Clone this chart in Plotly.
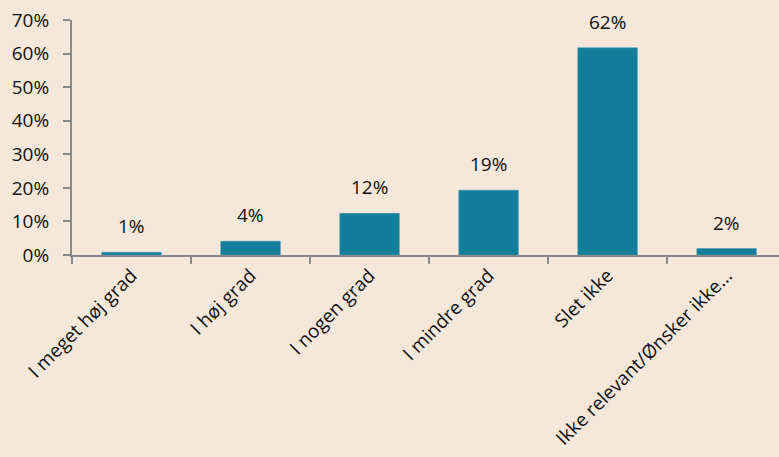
import plotly.graph_objects as go

categories = ["I meget høj grad", "I høj grad", "I nogen grad", "I mindre grad", "Slet ikke", "Ikke relevant/Ønsker ikke..."]
values = [0.8, 4.1, 12.4, 19.3, 61.7, 1.9]
labels = ["1%", "4%", "12%", "19%", "62%", "2%"]
y_ticks = [0, 10, 20, 30, 40, 50, 60, 70]
y_ticktext = [f"{v}%" for v in y_ticks]

font_family = "Open Sans, Noto Sans, sans-serif"
bg = "#F5E8DB"
fs = 19

fig = go.Figure()
fig.add_trace(go.Bar(
    x=categories, y=values,
    marker=dict(color="#127E9B", line=dict(color="#3E97AF", width=0.6)),
    width=0.5,
    hoverinfo="skip",
))
for c, v, t in zip(categories, values, labels):
    fig.add_annotation(x=c, y=v, text=t, showarrow=False, yanchor="bottom",
                       yshift=11, font=dict(family=font_family, size=fs, color="#111111"))

fig.update_layout(
    width=779, height=457,
    paper_bgcolor=bg, plot_bgcolor=bg,
    margin=dict(l=72, r=0, t=20, b=202),
    showlegend=False,
    font=dict(family=font_family, size=fs, color="#111111"),
)
fig.update_yaxes(
    range=[0, 70], tickvals=y_ticks, ticktext=y_ticktext,
    showgrid=False, zeroline=False, automargin=False,
    showline=True, linecolor="#8a8a8a", linewidth=2,
    ticks="outside", ticklen=7, tickcolor="#8a8a8a", tickwidth=2,
    ticklabelstandoff=10,
    tickfont=dict(size=fs, color="#111111"),
)
fig.update_xaxes(
    range=[-0.5, 5.44], automargin=False,
    showgrid=False, showline=True, linecolor="#8a8a8a", linewidth=2,
    ticks="outside", tickson="boundaries", ticklen=7, tickcolor="#8a8a8a", tickwidth=2,
    tickangle=-45, tickfont=dict(size=19, color="#111111"),
)
fig.write_html("out.html", config={"displayModeBar": False},
               post_script="document.body.style.margin='0';document.body.style.background='%s';" % bg)
